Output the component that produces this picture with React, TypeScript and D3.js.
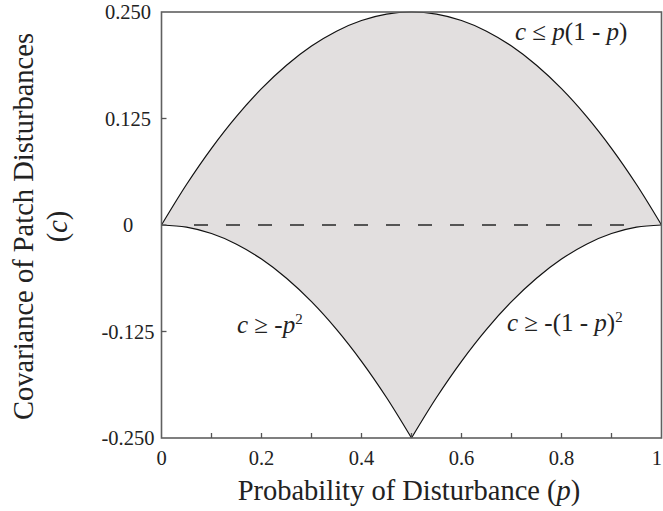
import { useEffect, useRef } from 'react'
import * as d3 from 'd3'

// values (p from 0 to 1 in steps of 0.05)
const pValues = [
  0, 0.05, 0.1, 0.15, 0.2, 0.25, 0.3, 0.35, 0.4, 0.45, 0.5,
  0.55, 0.6, 0.65, 0.7, 0.75, 0.8, 0.85, 0.9, 0.95, 1,
]
const upperValues = [
  0, 0.0475, 0.09, 0.1275, 0.16, 0.1875, 0.21, 0.2275, 0.24, 0.2475, 0.25,
  0.2475, 0.24, 0.2275, 0.21, 0.1875, 0.16, 0.1275, 0.09, 0.0475, 0,
]
const lowerValues = [
  0, -0.0025, -0.01, -0.0225, -0.04, -0.0625, -0.09, -0.1225, -0.16, -0.2025, -0.25,
  -0.2025, -0.16, -0.1225, -0.09, -0.0625, -0.04, -0.0225, -0.01, -0.0025, 0,
]
const dashedP = [0.065, 0.93]
const xTicks = [0, 0.1, 0.2, 0.3, 0.4, 0.5, 0.6, 0.7, 0.8, 0.9, 1]
const xTickLabels = ['0', '', '0.2', '', '0.4', '', '0.6', '', '0.8', '', '1']
const yTicks = [-0.25, -0.125, 0, 0.125, 0.25]
const yTickLabels = ['-0.250', '-0.125', '0', '0.125', '0.250']

const W = 663
const H = 511
const FONT = '"Liberation Serif", "DejaVu Serif", serif'

export default function App() {
  const ref = useRef<SVGSVGElement>(null)

  useEffect(() => {
    const svg = d3.select(ref.current)
    svg.selectAll('*').remove()

    const x = d3.scaleLinear().domain([0, 1]).range([161.5, 661.5])
    const y = d3.scaleLinear().domain([-0.25, 0.25]).range([438, 12])

    const upper = pValues.map((p, i) => [p, upperValues[i]] as [number, number])
    const lowerLeft = pValues
      .map((p, i) => [p, lowerValues[i]] as [number, number])
      .filter((d) => d[0] <= 0.5)
    const lowerRight = pValues
      .map((p, i) => [p, lowerValues[i]] as [number, number])
      .filter((d) => d[0] >= 0.5)

    const line = d3
      .line<[number, number]>()
      .x((d) => x(d[0]))
      .y((d) => y(d[1]))
      .curve(d3.curveCatmullRom)

    const fillPath =
      line(upper) +
      (line(lowerRight.slice().reverse()) || '').replace(/^M/, 'L') +
      (line(lowerLeft.slice().reverse()) || '').replace(/^M/, 'L') +
      'Z'

    svg.append('path').attr('d', fillPath).attr('fill', '#e2dfdf').attr('stroke', 'none')

    // dashed zero line
    svg
      .append('line')
      .attr('x1', x(dashedP[0]))
      .attr('x2', x(dashedP[1]))
      .attr('y1', y(0))
      .attr('y2', y(0))
      .attr('stroke', '#555')
      .attr('stroke-width', 2)
      .attr('stroke-dasharray', '14,18')

    for (const data of [upper, lowerLeft, lowerRight]) {
      svg
        .append('path')
        .attr('d', line(data))
        .attr('fill', 'none')
        .attr('stroke', '#111')
        .attr('stroke-width', 1.2)
    }

    // frame
    svg
      .append('rect')
      .attr('x', x(0))
      .attr('y', y(0.25))
      .attr('width', x(1) - x(0))
      .attr('height', y(-0.25) - y(0.25))
      .attr('fill', 'none')
      .attr('stroke', '#606060')
      .attr('stroke-width', 1.6)

    // x ticks (inward)
    const xg = svg.append('g')
    xTicks.forEach((t, i) => {
      const last = i === xTicks.length - 1
      if (i > 0 && !last) {
        xg.append('line')
          .attr('x1', x(t))
          .attr('x2', x(t))
          .attr('y1', y(-0.25))
          .attr('y2', y(-0.25) - 5)
          .attr('stroke', '#555')
          .attr('stroke-width', 1.3)
      }
      xg.append('text')
        .attr('x', last ? W - 1 : x(t))
        .attr('y', 465)
        .attr('text-anchor', last ? 'end' : 'middle')
        .attr('font-family', FONT)
        .attr('font-size', 20.5)
        .attr('fill', '#222')
        .text(xTickLabels[i])
    })

    // y ticks (inward)
    const yg = svg.append('g')
    yTicks.forEach((t, i) => {
      if (i > 0 && i < yTicks.length - 1) {
        yg.append('line')
          .attr('x1', x(0))
          .attr('x2', x(0) + 5)
          .attr('y1', y(t))
          .attr('y2', y(t))
          .attr('stroke', '#555')
          .attr('stroke-width', 1.3)
      }
      yg.append('text')
        .attr('x', 128)
        .attr('y', y(t))
        .attr('dy', 7)
        .attr('text-anchor', 'middle')
        .attr('font-family', FONT)
        .attr('font-size', 20.5)
        .attr('fill', '#222')
        .text(yTickLabels[i])
    })

    // axis titles
    const xt = svg
      .append('text')
      .attr('x', 409)
      .attr('y', 500)
      .attr('text-anchor', 'middle')
      .attr('font-family', FONT)
      .attr('font-size', 28.5)
      .attr('fill', '#222')
    xt.append('tspan').text('Probability of Disturbance (')
    xt.append('tspan').attr('font-style', 'italic').text('p')
    xt.append('tspan').text(')')

    const yt = svg
      .append('g')
      .attr('transform', 'translate(33,226.5) rotate(-90)')
    yt.append('text')
      .attr('text-anchor', 'middle')
      .attr('font-family', FONT)
      .attr('font-size', 28.5)
      .attr('fill', '#222')
      .text('Covariance of Patch Disturbances')
    const yt2 = yt
      .append('text')
      .attr('y', 33.5)
      .attr('text-anchor', 'middle')
      .attr('font-family', FONT)
      .attr('font-size', 28.5)
      .attr('fill', '#222')
    yt2.append('tspan').text('(')
    yt2.append('tspan').attr('font-style', 'italic').text('c')
    yt2.append('tspan').text(')')

    // annotations
    const label = (px: number, py: number, parts: [string, string][]) => {
      const t = svg
        .append('text')
        .attr('x', px)
        .attr('y', py)
        .attr('font-family', FONT)
        .attr('font-size', 25)
        .attr('fill', '#222')
      parts.forEach(([s, kind]) => {
        const sp = t.append('tspan').text(s)
        if (kind === 'i') sp.attr('font-style', 'italic')
        if (kind === 'sup') sp.attr('font-size', 15).attr('dy', -9)
      })
    }
    label(515, 40, [
      ['c', 'i'],
      [' ≤ ', ''],
      ['p', 'i'],
      ['(1 - ', ''],
      ['p', 'i'],
      [')', ''],
    ])
    label(237, 333, [
      ['c', 'i'],
      [' ≥ -', ''],
      ['p', 'i'],
      ['2', 'sup'],
    ])
    label(507, 331, [
      ['c', 'i'],
      [' ≥ -(1 - ', ''],
      ['p', 'i'],
      [')', ''],
      ['2', 'sup'],
    ])
  }, [])

  return (
    <svg
      ref={ref}
      width={W}
      height={H}
      style={{ position: 'absolute', left: 0, top: 0, background: '#fff' }}
    />
  )
}
